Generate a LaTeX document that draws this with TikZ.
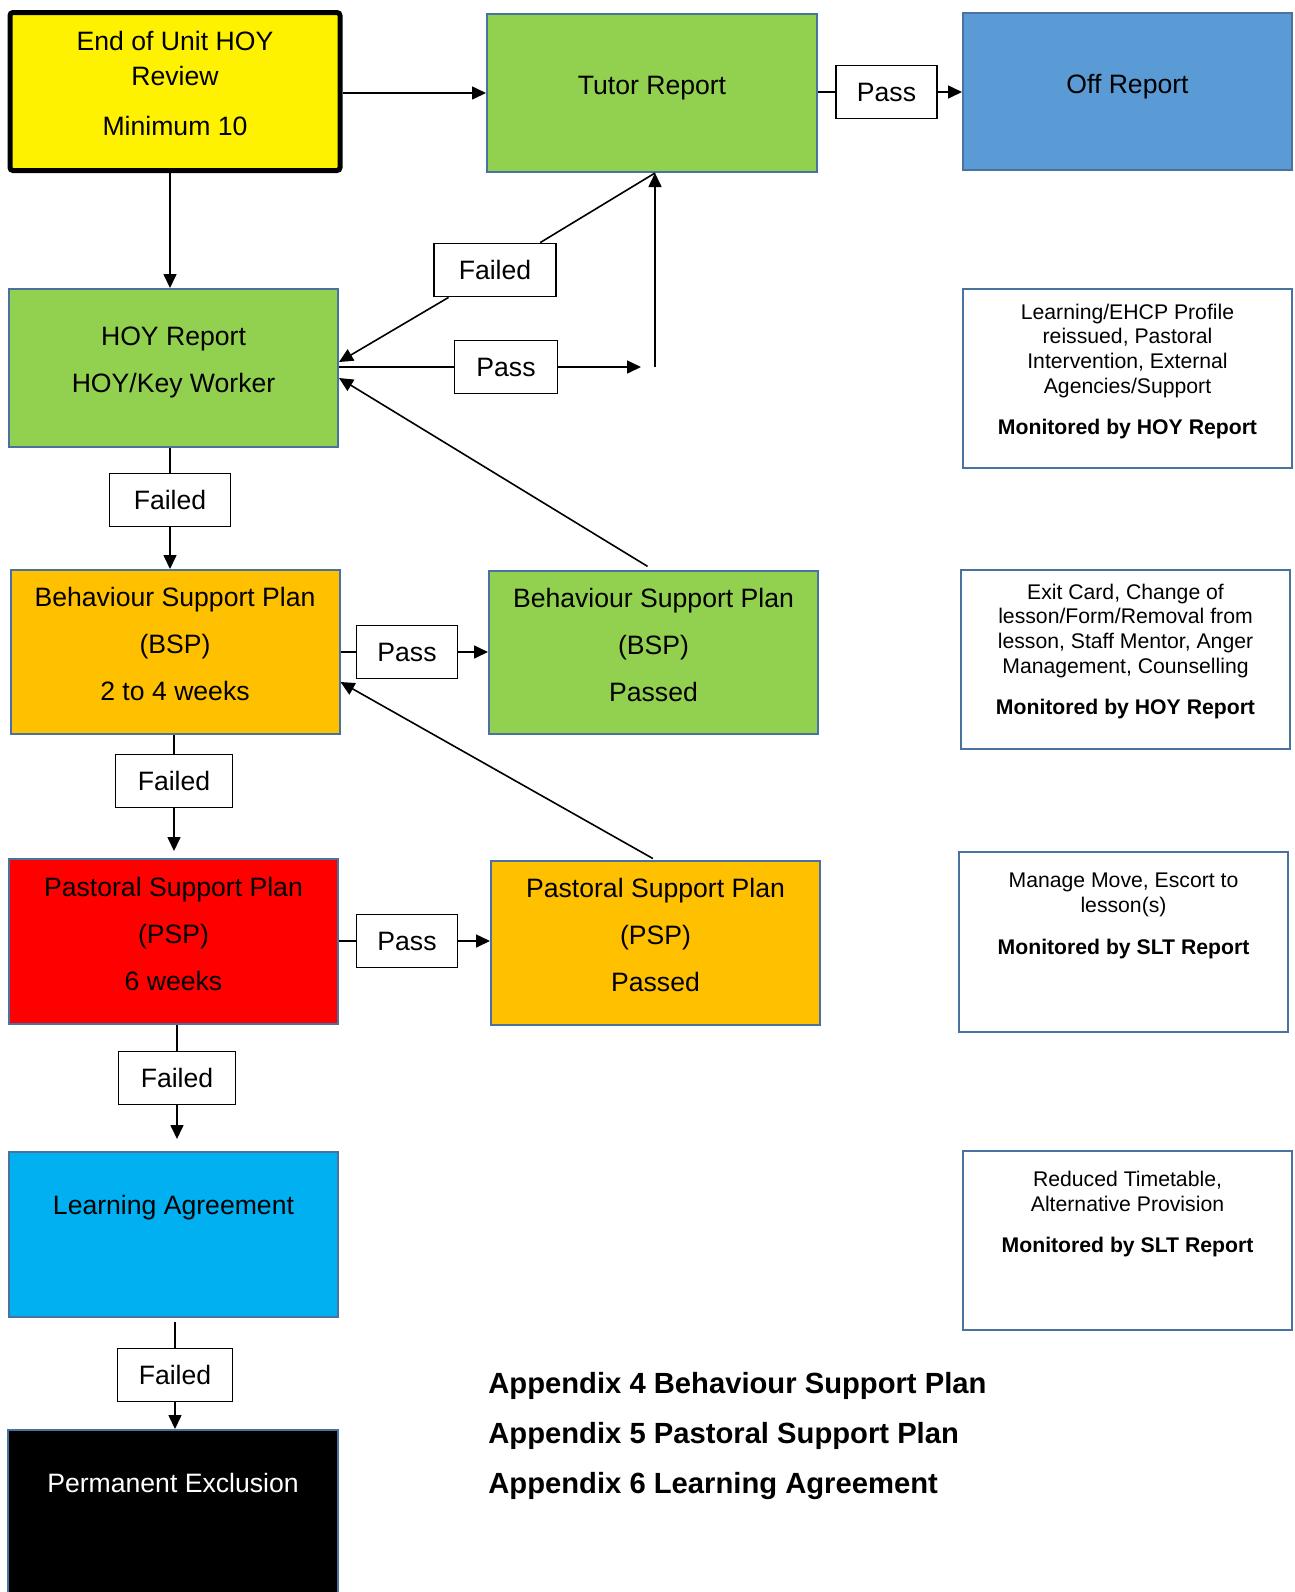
\documentclass[tikz,border=0pt]{standalone}
\usepackage{fontspec}
\setmainfont{Liberation Sans}
\usetikzlibrary{arrows.meta,positioning,calc}
\definecolor{edgeblue}{RGB}{74,114,160}
\definecolor{tutorgreen}{RGB}{146,208,80}
\definecolor{offblue}{RGB}{91,155,213}
\definecolor{bspamber}{RGB}{255,192,0}
\definecolor{pspred}{RGB}{255,0,0}
\definecolor{lacyan}{RGB}{0,176,240}
\newcommand{\lift}[1][8pt]{\rule[-#1]{0pt}{#1}}
\tikzset{
  stage/.style={draw=edgeblue,line width=1pt,minimum width=164.5pt,minimum height=82pt,align=center,inner sep=0pt,font=\fontsize{13.3}{23.5}\selectfont},
  tag/.style={draw,fill=white,line width=0.9pt,minimum width=#1,minimum height=26.5pt,inner sep=0pt,font=\fontsize{13.3}{16}\selectfont},
  tag/.default=50.5pt,
  note/.style={draw=edgeblue,line width=1pt,minimum width=164.5pt,minimum height=89.5pt,align=center,inner sep=0pt,font=\fontsize{10.6}{12.35}\selectfont},
  arrow/.style={-{Triangle[length=7pt,width=6.5pt]},line width=0.8pt},
  link/.style={line width=0.8pt}
}
\begin{document}
\begin{tikzpicture}[x=0.5pt,y=-0.5pt]
\path[use as bounding box,fill=white] (0,0) rectangle (1295,1592);

% left column
\node[stage,draw=black,line width=2.5pt,rounded corners=1.5pt,fill=yellow,minimum width=165pt,minimum height=79pt,font=\fontsize{13.3}{17.5}\selectfont] (review) at (175,91.5) {End of Unit HOY\\Review\\[7.5pt]Minimum 10\lift};
\node[stage,fill=tutorgreen,minimum height=79pt] (hoy) at (173.5,368) {HOY Report\\HOY/Key Worker\lift};
\node[stage,fill=bspamber] (bsp) at (175,652) {Behaviour Support Plan\\(BSP)\\2 to 4 weeks\lift};
\node[stage,fill=pspred,minimum height=82.5pt] (psp) at (173.5,941.5) {Pastoral Support Plan\\(PSP)\\6 weeks\lift};
\node[stage,fill=lacyan,minimum height=82.5pt] (la) at (173.5,1234.5) {Learning Agreement\lift[29.7pt]};
\node[stage,fill=black,text=white,minimum width=165pt,minimum height=95pt] (pe) at (173,1525) {Permanent Exclusion\lift[42pt]};

% middle column
\node[stage,fill=tutorgreen,minimum width=165pt,minimum height=79pt] (tutor) at (652,93) {Tutor Report\lift};
\node[stage,fill=tutorgreen,minimum height=81.5pt] (bsppass) at (653.5,652.5) {Behaviour Support Plan\\(BSP)\\Passed\lift};
\node[stage,fill=bspamber] (psppass) at (655.5,943) {Pastoral Support Plan\\(PSP)\\Passed\lift};
\node[stage,fill=offblue,minimum height=78.5pt] (off) at (1127.5,91.5) {Off Report\lift};

% notes on the right
\node[note] (note1) at (1127.5,378) {Learning/EHCP Profile\\reissued, Pastoral\\Intervention, External\\Agencies/Support\\[8pt]\textbf{Monitored by HOY Report}\lift[9pt]};
\node[note] (note2) at (1125.5,659) {Exit Card, Change of\\lesson/Form/Removal from\\lesson, Staff Mentor, Anger\\Management, Counselling\\[8pt]\textbf{Monitored by HOY Report}\lift[10pt]};
\node[note,minimum height=90pt] (note3) at (1123.5,941.5) {Manage Move, Escort to\\lesson(s)\\[8.5pt]\textbf{Monitored by SLT Report}\lift[28pt]};
\node[note] (note4) at (1127.5,1240) {Reduced Timetable,\\Alternative Provision\\[8pt]\textbf{Monitored by SLT Report}\lift[28pt]};

\node[anchor=west,align=left,inner sep=0pt,font=\fontsize{14.6}{25}\selectfont\bfseries] (appx) at (488,1436) {Appendix 4 Behaviour Support Plan\\Appendix 5 Pastoral Support Plan\\Appendix 6 Learning Agreement};

% pass / failed tags
\node[tag] (pA) at (886.5,92) {Pass};
\node[tag=61pt] (fA) at (495,270) {Failed};
\node[tag=51.5pt] (pB) at (506,367) {Pass};
\node[tag=60.5pt] (fB) at (170,500) {Failed};
\node[tag] (pC) at (407,652) {Pass};
\node[tag=58.5pt] (fC) at (174,781) {Failed};
\node[tag] (pD) at (407,941) {Pass};
\node[tag=58.5pt] (fD) at (177,1078) {Failed};
\node[tag=57.5pt] (fE) at (175,1375) {Failed};

\coordinate (passend) at (641,367);
\coordinate (riser) at (655,367);

% down the left column
\draw[arrow] (review.south -| fB) -- (hoy.north -| fB);
\draw[link] (hoy.south -| fB) -- (fB);
\draw[arrow] (fB) -- (bsp.north -| fB);
\draw[link] (bsp.south -| fC) -- (fC);
\draw[arrow,shorten >=3.5pt] (fC) -- (psp.north -| fC);
\draw[link] (psp.south -| fD) -- (fD);
\draw[arrow,shorten >=6pt] (fD) -- (la.north -| fD);
\draw[link,shorten <=2pt] (la.south -| fE) -- (fE);
\draw[arrow] (fE) -- (pe.north -| fE);

% top row
\draw[arrow] (review.east |- tutor.west) -- (tutor.west);
\draw[link] (tutor.east |- pA) -- (pA);
\draw[arrow] (pA) -- (off.west |- pA);

% back and forth with HOY report
\draw[link] (hoy.east |- pB) -- (pB);
\draw[arrow] (pB) -- (passend);
\draw[arrow] (riser) -- (riser |- tutor.south);
\draw[link] (riser |- tutor.south) -- (fA);
\draw[arrow] (fA) -- ($(hoy.east)+(0,-6)$);
\draw[arrow,shorten <=3.5pt] (bsppass.north) -- ($(hoy.east)+(0,10)$);

% support plans
\draw[link] (bsp.east |- pC) -- (pC);
\draw[arrow] (pC) -- (bsppass.west |- pC);
\draw[link] (psp.east |- pD) -- (pD);
\draw[arrow] (pD) -- (psppass.west |- pD);
\draw[arrow,shorten <=1.5pt] (psppass.north) -- ($(bsp.east)+(0,30)$);
\end{tikzpicture}
\end{document}
